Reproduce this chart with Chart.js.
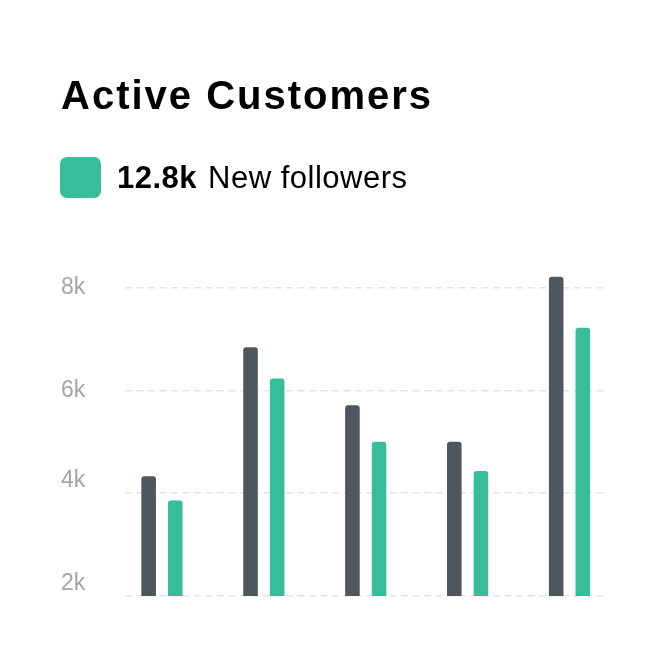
<!DOCTYPE html>
<html>
<head>
<meta charset="utf-8">
<script src="https://cdn.jsdelivr.net/npm/chart.js@4.4.0/dist/chart.umd.min.js"></script>
<style>
  html, body { margin: 0; padding: 0; background: #ffffff; }
  #wrap { position: relative; width: 664px; height: 664px; overflow: hidden; }
  #chart { position: absolute; left: 0; top: 0; }
  .title { position: absolute; left: 61px; top: 74.5px; font-family: "Liberation Sans", Arial, sans-serif;
           font-weight: bold; font-size: 40px; line-height: 40px; letter-spacing: 2px; color: #000; white-space: nowrap; }
  .legend { position: absolute; left: 60px; top: 157px; height: 41px; display: flex; align-items: center;
            font-family: "Liberation Sans", Arial, sans-serif; font-size: 31px; letter-spacing: 0.5px; color: #000; white-space: nowrap; }
  .swatch { width: 41px; height: 41px; border-radius: 7px; background: #37bd9a; margin-right: 16px; }
  .legend b { margin-right: 11px; }
</style>
</head>
<body>
<div id="wrap">
  <canvas id="chart" width="664" height="664"></canvas>
  <div class="title">Active Customers</div>
  <div class="legend"><span class="swatch"></span><b>12.8k</b><span>New followers</span></div>
</div>
<script>
const categories = ["1", "2", "3", "4", "5"];
const seriesDark = [4330, 6840, 5710, 5000, 8210];
const seriesGreen = [3860, 6230, 5000, 4430, 7220];
const yTicks = [2000, 4000, 6000, 8000];
const yTickLabels = ["2k", "4k", "6k", "8k"];
// labels for the two lower ticks sit slightly above their grid lines in the reference
const raisedLabels = ["2k", "4k"];

const toPoints = arr => arr.map((v, i) => ({ x: i, y: v }));

new Chart(document.getElementById('chart'), {
  type: 'bar',
  data: {
    labels: categories,
    datasets: [
      { label: 'Customers', data: toPoints(seriesDark), backgroundColor: '#4f575e',
        borderRadius: { topLeft: 3, topRight: 3 }, borderSkipped: 'bottom',
        categoryPercentage: 0.523, barPercentage: 0.547 },
      { label: 'New followers', data: toPoints(seriesGreen), backgroundColor: '#37bd9a',
        borderRadius: { topLeft: 3, topRight: 3 }, borderSkipped: 'bottom',
        categoryPercentage: 0.523, barPercentage: 0.547 }
    ]
  },
  options: {
    responsive: false,
    animation: false,
    devicePixelRatio: 1,
    layout: { padding: { left: 21, right: 57, top: 267, bottom: 68 } },
    plugins: { legend: { display: false }, tooltip: { enabled: false }, title: { display: false } },
    scales: {
      x: {
        type: 'linear', min: -0.36, max: 4.368, offset: false, display: false,
        grid: { display: false, offset: false },
        afterBuildTicks: axis => { axis.ticks = categories.map((c, i) => ({ value: i })); }
      },
      y: {
        min: 2000, max: 8400,
        border: { display: false, dash: [7, 4.5] },
        grid: { color: '#e4e4e4', lineWidth: 1.5, drawTicks: false },
        afterBuildTicks: axis => { axis.ticks = yTicks.map(v => ({ value: v })); },
        ticks: {
          padding: 40,
          color: '#a5a5a5',
          font: { family: "'Liberation Sans', Arial, sans-serif", size: 23, lineHeight: 1.1 },
          callback: (value) => {
            const i = yTicks.indexOf(value);
            if (i < 0) return '';
            const t = yTickLabels[i];
            return raisedLabels.includes(t) ? [t, ''] : t;
          }
        }
      }
    }
  }
});
</script>
</body>
</html>
